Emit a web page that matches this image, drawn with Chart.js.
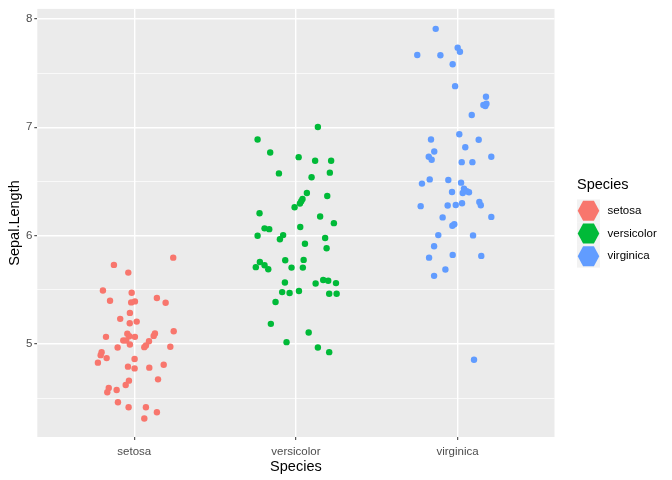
<!DOCTYPE html>
<html>
<head>
<meta charset="utf-8">
<script src="https://cdn.jsdelivr.net/npm/chart.js@4.4.1/dist/chart.umd.min.js"></script>
<style>
  html, body { margin: 0; padding: 0; background: #fff; }
  canvas { display: block; }
</style>
</head>
<body>
<canvas id="grafico" width="672" height="480"></canvas>
<script>
// categorias y colores
const especies = ["setosa", "versicolor", "virginica"];
const colores = ["#F8766D", "#00BA38", "#619CFF"];

// desplazamiento horizontal (jitter) de cada punto, en unidades de categoria
const setosaJitter = [0.241, -0.126, -0.037, -0.194, -0.016, -0.150, -0.019, 0.004, 0.140, 0.194,
  -0.027, -0.087, -0.028, 0.015, 0.244, -0.175, -0.043, -0.031, 0.004, -0.068,
  -0.050, -0.027, 0.128, 0.120, 0.091, 0.072, 0.062, 0.223, -0.103, -0.202,
  -0.208, -0.171, -0.225, 0.002, -0.039, 0.002, 0.093, 0.182, 0.147, -0.033,
  -0.053, -0.158, -0.167, -0.109, -0.101, -0.035, 0.072, 0.140, 0.062];
const setosaLargo = [5.797, 5.730, 5.659, 5.494, 5.473, 5.399, 5.384, 5.393, 5.424, 5.381,
  5.287, 5.232, 5.191, 5.207, 5.118, 5.066, 5.094, 5.072, 5.066, 5.032,
  5.032, 4.996, 5.097, 5.075, 5.026, 4.986, 4.971, 4.975, 4.968, 4.925,
  4.897, 4.870, 4.828, 4.861, 4.791, 4.775, 4.782, 4.809, 4.674, 4.662,
  4.622, 4.594, 4.555, 4.576, 4.463, 4.417, 4.417, 4.371, 4.313];

const versicolorJitter = [0.136, -0.237, -0.159, 0.017, 0.119, 0.218, -0.105, 0.097, 0.210, 0.068,
  0.194, 0.041, 0.033, 0.025, -0.008, -0.225, 0.150, 0.235, -0.194, -0.165,
  0.027, -0.237, -0.079, -0.099, 0.181, 0.056, 0.190, -0.223, -0.248, -0.194,
  -0.171, -0.066, -0.027, 0.048, 0.043, -0.068, -0.085, -0.039, 0.019, 0.122,
  0.169, 0.200, 0.248, 0.206, 0.252, -0.126, -0.155, 0.079, -0.058, 0.136, 0.206];
const versicolorLargo = [7.003, 6.887, 6.767, 6.724, 6.691, 6.691, 6.574, 6.538, 6.581, 6.394,
  6.366, 6.339, 6.317, 6.296, 6.262, 6.207, 6.177, 6.115, 6.067, 6.060,
  6.079, 5.999, 6.005, 5.966, 5.978, 5.925, 5.883, 5.757, 5.709, 5.727,
  5.690, 5.773, 5.705, 5.776, 5.705, 5.567, 5.479, 5.470, 5.489, 5.558,
  5.590, 5.583, 5.562, 5.464, 5.464, 5.388, 5.186, 5.106, 5.017, 4.968, 4.925];

const virginicaJitter = [-0.135, -0.249, -0.106, 0.001, 0.015, -0.030, -0.015, 0.176, 0.160, 0.172,
  0.179, 0.088, 0.011, -0.164, 0.131, 0.048, -0.144, -0.178, -0.160, 0.026,
  0.092, 0.209, -0.172, -0.220, -0.057, 0.022, -0.034, 0.040, 0.032, 0.071,
  0.057, -0.228, -0.061, -0.011, 0.028, 0.135, 0.144, -0.092, 0.209, -0.020,
  -0.032, -0.119, 0.096, -0.145, -0.176, -0.030, 0.147, -0.075, -0.145, 0.102];
const virginicaLargo = [7.908, 7.667, 7.664, 7.734, 7.697, 7.581, 7.379, 7.281, 7.205, 7.196,
  7.217, 7.113, 6.935, 6.887, 6.884, 6.816, 6.776, 6.728, 6.700, 6.678,
  6.678, 6.728, 6.519, 6.480, 6.513, 6.489, 6.403, 6.434, 6.394, 6.400,
  6.409, 6.272, 6.278, 6.283, 6.299, 6.311, 6.281, 6.168, 6.173, 6.106,
  6.091, 6.005, 6.002, 5.902, 5.797, 5.822, 5.813, 5.687, 5.629, 4.855];

// ticks
const ticksY = [4.5, 5, 5.5, 6, 6.5, 7, 7.5, 8];
const ticksX = [1, 2, 3];

const FUENTE = "'Liberation Sans', Arial, Helvetica, sans-serif";

const jitters = [setosaJitter, versicolorJitter, virginicaJitter];
const largos = [setosaLargo, versicolorLargo, virginicaLargo];

const datasets = especies.map((nombre, i) => ({
    label: nombre,
    data: largos[i].map((y, j) => ({ x: i + 1 + jitters[i][j], y })),
    backgroundColor: colores[i],
    borderWidth: 0,
    pointRadius: 3.2,
    pointHoverRadius: 3.2
}));

const esEntero = v => Math.abs(v - Math.round(v)) < 1e-9;

// fondo gris del panel
const fondoPanel = {
    id: "fondoPanel",
    beforeDraw(chart) {
        const { ctx, chartArea: a } = chart;
        ctx.save();
        ctx.fillStyle = "#fff";
        ctx.fillRect(0, 0, chart.width, chart.height);
        ctx.fillStyle = "#EBEBEB";
        ctx.fillRect(a.left, a.top, a.right - a.left, a.bottom - a.top);
        ctx.restore();
    }
};

// leyenda estilo ggplot con claves hexagonales
const leyenda = {
    id: "leyenda",
    afterDraw(chart) {
        const ctx = chart.ctx;
        ctx.save();
        ctx.fillStyle = "#000";
        ctx.font = "14.5px " + FUENTE;
        ctx.textBaseline = "middle";
        ctx.textAlign = "left";
        ctx.fillText("Species", 577, 185);

        const x0 = 577, y0 = 199.5, w = 23, h = 22.7;
        especies.forEach((nombre, i) => {
            const top = y0 + i * h;
            ctx.fillStyle = "#F2F2F2";
            ctx.fillRect(x0, top, w, h);
            const cx = x0 + w / 2, cy = top + h / 2;
            const rw = 10.8, rh = 10;
            ctx.beginPath();
            ctx.moveTo(cx - rw, cy);
            ctx.lineTo(cx - rw / 2, cy - rh);
            ctx.lineTo(cx + rw / 2, cy - rh);
            ctx.lineTo(cx + rw, cy);
            ctx.lineTo(cx + rw / 2, cy + rh);
            ctx.lineTo(cx - rw / 2, cy + rh);
            ctx.closePath();
            ctx.fillStyle = colores[i];
            ctx.fill();

            ctx.fillStyle = "#000";
            ctx.font = "11.5px " + FUENTE;
            ctx.fillText(nombre, 607.5, cy);
        });
        ctx.restore();
    }
};

new Chart(document.getElementById("grafico"), {
    type: "scatter",
    data: { datasets },
    options: {
        responsive: false,
        animation: false,
        events: [],
        layout: { padding: { left: 0, right: 117.5, top: 6.7, bottom: 0 } },
        plugins: {
            legend: { display: false },
            tooltip: { enabled: false }
        },
        scales: {
            x: {
                type: "linear",
                min: 0.4,
                max: 3.6,
                afterBuildTicks: s => { s.ticks = ticksX.map(v => ({ value: v })); },
                afterFit: s => { s.height = 43; },
                border: { display: false },
                grid: {
                    color: "#fff",
                    lineWidth: 1.4,
                    tickColor: "#333333",
                    tickLength: 3,
                    tickWidth: 1
                },
                ticks: {
                    autoSkip: false,
                    maxRotation: 0,
                    padding: 4.5,
                    color: "#4D4D4D",
                    font: { family: FUENTE, size: 11.5 },
                    callback: (v, i) => especies[i]
                },
                title: {
                    display: true,
                    text: "Species",
                    color: "#000",
                    font: { family: FUENTE, size: 14.5 },
                    padding: { top: 0, bottom: 4.5 }
                }
            },
            y: {
                type: "linear",
                min: 4.142,
                max: 8.092,
                afterBuildTicks: s => { s.ticks = ticksY.map(v => ({ value: v })); },
                afterFit: s => { s.width = 37.3; },
                border: { display: false },
                grid: {
                    color: "#fff",
                    lineWidth: c => (c.tick && esEntero(c.tick.value)) ? 1.4 : 0.7,
                    tickColor: c => (c.tick && esEntero(c.tick.value)) ? "#333333" : "rgba(0,0,0,0)",
                    tickLength: 3,
                    tickWidth: 1
                },
                ticks: {
                    autoSkip: false,
                    padding: 2,
                    color: "#4D4D4D",
                    font: { family: FUENTE, size: 11.5 },
                    callback: v => esEntero(v) ? String(v) : ""
                },
                title: {
                    display: true,
                    text: "Sepal.Length",
                    color: "#000",
                    font: { family: FUENTE, size: 14.5 },
                    padding: { top: 6, bottom: 0 }
                }
            }
        }
    },
    plugins: [fondoPanel, leyenda]
});
</script>
</body>
</html>
